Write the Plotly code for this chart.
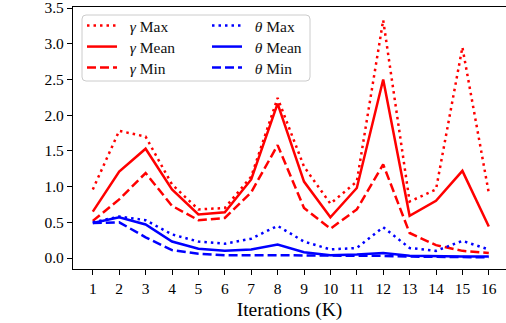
import plotly.graph_objects as go

iters = list(range(1, 17))
gamma_max = [0.96, 1.78, 1.70, 1.03, 0.68, 0.70, 1.14, 2.24, 1.28, 0.76, 1.07, 3.33, 0.79, 0.96, 2.95, 0.91]
gamma_mean = [0.65, 1.21, 1.53, 0.96, 0.61, 0.64, 1.10, 2.16, 1.07, 0.57, 0.98, 2.50, 0.59, 0.80, 1.22, 0.44]
gamma_min = [0.52, 0.82, 1.19, 0.73, 0.53, 0.56, 0.92, 1.58, 0.70, 0.41, 0.68, 1.31, 0.35, 0.18, 0.10, 0.07]
theta_max = [0.50, 0.58, 0.53, 0.33, 0.23, 0.20, 0.27, 0.45, 0.23, 0.12, 0.14, 0.43, 0.14, 0.10, 0.24, 0.12]
theta_mean = [0.49, 0.57, 0.47, 0.23, 0.13, 0.10, 0.12, 0.19, 0.08, 0.04, 0.05, 0.07, 0.03, 0.02, 0.02, 0.02]
theta_min = [0.49, 0.50, 0.29, 0.11, 0.06, 0.04, 0.04, 0.04, 0.04, 0.03, 0.03, 0.03, 0.02, 0.02, 0.02, 0.01]

FONT = "Liberation Serif"
LW = 2.5
DOT = "2.5px,4px"
DASH = "9px,4px"
SP = "\u00a0\u00a0"

W, H = 506, 323
L, R, T, B = 73, 0, 7, 54
pw, ph = W - L - R, H - T - B

def px(x):
    return (x - L) / pw

def py(y):
    return (H - B - y) / ph

# (name, values, colour, dash, legend column x, legend row centre y)
series = [
    ("<i>γ</i> Max", gamma_max, "red", DOT, 82, 26),
    ("<i>γ</i> Mean", gamma_mean, "red", "solid", 82, 47),
    ("<i>γ</i> Min", gamma_min, "red", DASH, 82, 68),
    ("<i>θ</i> Max", theta_max, "blue", DOT, 207, 26),
    ("<i>θ</i> Mean", theta_mean, "blue", "solid", 207, 47),
    ("<i>θ</i> Min", theta_min, "blue", DASH, 207, 68),
]

fig = go.Figure()
legends = {}
for i, (name, vals, color, dash, lx, ly) in enumerate(series):
    key = f"legend{i + 2}"
    fig.add_trace(go.Scatter(x=iters, y=vals, mode="lines", name=SP + name,
                             line=dict(color=color, width=LW, dash=dash),
                             legend=key, showlegend=True))
    legends[key] = dict(x=px(lx), y=py(ly), xref="paper", yref="paper",
                        xanchor="left", yanchor="middle", bgcolor="rgba(0,0,0,0)",
                        borderwidth=0, font=dict(family=FONT, size=15.5, color="#111111"),
                        itemwidth=30)

# legend frame (rounded)
x0, x1, y0, y1, r = 82, 310, 15, 81, 4
path = (f"M {px(x0 + r)},{py(y0)} L {px(x1 - r)},{py(y0)} "
        f"Q {px(x1)},{py(y0)} {px(x1)},{py(y0 + r)} L {px(x1)},{py(y1 - r)} "
        f"Q {px(x1)},{py(y1)} {px(x1 - r)},{py(y1)} L {px(x0 + r)},{py(y1)} "
        f"Q {px(x0)},{py(y1)} {px(x0)},{py(y1 - r)} L {px(x0)},{py(y0 + r)} "
        f"Q {px(x0)},{py(y0)} {px(x0 + r)},{py(y0)} Z")

fig.update_layout(
    width=W, height=H,
    margin=dict(l=L, r=R, t=T, b=B, pad=0, autoexpand=False),
    plot_bgcolor="white", paper_bgcolor="white",
    font=dict(family=FONT, size=15.5, color="black"),
    shapes=[dict(type="path", path=path, xref="paper", yref="paper",
                 line=dict(color="#cccccc", width=1), fillcolor="rgba(255,255,255,0.8)",
                 layer="below")],
    **legends,
)
fig.update_xaxes(range=[0.25, 0.25 + pw / 26.4], tickmode="array", tickvals=iters,
                 ticktext=[str(i) for i in iters], ticks="outside", ticklen=5, tickwidth=1,
                 tickcolor="black", showline=True, linecolor="black", linewidth=1.3,
                 mirror=True, showgrid=False, zeroline=False, tickangle=0,
                 ticklabeloverflow="allow",
                 title=dict(text="Iterations (K)", font=dict(family=FONT, size=19.5), standoff=6),
                 tickfont=dict(family=FONT, size=15.5))
fig.update_yaxes(range=[-0.154, 3.514], tickmode="array",
                 tickvals=[0, 0.5, 1, 1.5, 2, 2.5, 3, 3.5],
                 ticktext=["0.0", "0.5", "1.0", "1.5", "2.0", "2.5", "3.0", "3.5"],
                 ticks="outside", ticklen=5, tickwidth=1, tickcolor="black",
                 ticklabeloverflow="allow",
                 showline=True, linecolor="black", linewidth=1.3, mirror=False,
                 showgrid=False, zeroline=False, tickfont=dict(family=FONT, size=15.5))

fig.write_html("out.html")
